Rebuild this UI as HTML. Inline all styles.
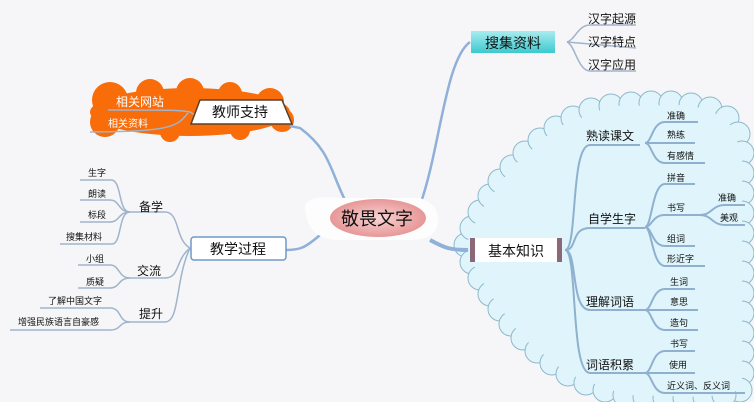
<!DOCTYPE html>
<html><head><meta charset="utf-8"><style>
html,body{margin:0;padding:0;background:#f6f6f8;}
svg{display:block;font-family:"Liberation Sans","Noto Sans CJK SC",sans-serif;}
</style></head><body>
<svg width="754" height="402" viewBox="0 0 754 402" xmlns="http://www.w3.org/2000/svg">
<defs>
<linearGradient id="teal" x1="0" y1="0" x2="0" y2="1"><stop offset="0" stop-color="#a8ecef"/><stop offset="1" stop-color="#3cc9cf"/></linearGradient>
<radialGradient id="pink" cx="0.5" cy="0.5" r="0.6"><stop offset="0" stop-color="#f8d4d4"/><stop offset="1" stop-color="#e48a8a"/></radialGradient>
</defs>
<rect width="754" height="402" fill="#f6f6f8"/>

<!-- right cloud -->
<g fill="#dff5fb" stroke="#8fb8cc" stroke-width="1">
<circle cx="466" cy="245" r="12"/><circle cx="472" cy="228" r="12"/><circle cx="480" cy="212" r="12"/><circle cx="490" cy="196" r="12"/><circle cx="500" cy="181" r="12"/><circle cx="512" cy="167" r="12"/><circle cx="525" cy="153" r="12"/><circle cx="540" cy="140" r="12"/><circle cx="556" cy="128" r="12"/><circle cx="573" cy="118" r="12"/><circle cx="591" cy="110" r="12"/><circle cx="611" cy="106" r="12"/><circle cx="631" cy="104" r="12"/><circle cx="651" cy="103" r="12"/><circle cx="671" cy="103" r="12"/><circle cx="691" cy="105" r="12"/><circle cx="710" cy="109" r="12"/><circle cx="727" cy="118" r="12"/><circle cx="738" cy="134" r="12"/><circle cx="742" cy="153" r="12"/><circle cx="742" cy="173" r="12"/><circle cx="742" cy="193" r="12"/><circle cx="742" cy="213" r="12"/><circle cx="742" cy="233" r="12"/><circle cx="742" cy="253" r="12"/><circle cx="742" cy="273" r="12"/><circle cx="742" cy="293" r="12"/><circle cx="742" cy="313" r="12"/><circle cx="742" cy="333" r="12"/><circle cx="742" cy="353" r="12"/><circle cx="742" cy="373" r="12"/><circle cx="740" cy="390" r="12"/>
<circle cx="472" cy="262" r="12"/><circle cx="480" cy="278" r="12"/><circle cx="490" cy="294" r="12"/><circle cx="500" cy="309" r="12"/><circle cx="511" cy="324" r="12"/><circle cx="523" cy="338" r="12"/><circle cx="537" cy="351" r="12"/><circle cx="552" cy="363" r="12"/><circle cx="568" cy="374" r="12"/><circle cx="586" cy="383" r="12"/><circle cx="605" cy="390" r="12"/><circle cx="625" cy="395" r="12"/><circle cx="645" cy="397" r="12"/><circle cx="665" cy="398" r="12"/><circle cx="685" cy="398" r="12"/><circle cx="705" cy="397" r="12"/><circle cx="724" cy="395" r="12"/>
</g>
<polygon points="466,245 480,212 512,167 556,128 611,106 691,105 727,118 742,153 742,390 705,397 625,395 568,374 523,338 490,294 472,262" fill="#dff5fb"/>

<!-- left orange cloud -->
<g fill="#f86c0a">
<ellipse cx="190" cy="112" rx="100" ry="24"/><circle cx="110" cy="100" r="18"/><circle cx="105" cy="122" r="15"/><circle cx="150" cy="93" r="14"/><circle cx="190" cy="92" r="14"/><circle cx="230" cy="94" r="12"/><circle cx="270" cy="102" r="14"/><circle cx="282" cy="120" r="12"/><circle cx="240" cy="130" r="10"/><circle cx="170" cy="132" r="10"/>
</g>

<!-- main connectors -->
<g fill="none" stroke="#8fb0d8" stroke-width="2.5">
<path d="M420 205 C440 150 445 60 470 42"/>
<path d="M345 200 C330 170 330 150 300 128 L290 126"/>
<path d="M320 235 C305 248 300 250 286 250"/>
<path d="M430 240 C445 248 450 250 468 250" stroke-width="4"/>
</g>

<!-- sub connectors -->
<g fill="none" stroke="#a0b4cc" stroke-width="1.5">
<path d="M567 42 C575 40 578 25 590 25 L636 25"/>
<path d="M567 42 L636 48"/>
<path d="M567 42 C575 45 578 71 590 71 L636 71"/>
<path d="M195 115 L190 112 C180 110 175 110 108 110"/>
<path d="M188 113 C178 125 175 132 90 132"/>
<path d="M190 248 C175 240 180 212 165 212 L130 212"/>
<path d="M190 248 C175 260 180 278 165 278 L130 278"/>
<path d="M190 248 C175 280 180 322 165 322 L130 322"/>
<path d="M130 212 C118 212 122 182 112 180 L80 180"/>
<path d="M130 212 C118 212 120 200 110 200 L80 200"/>
<path d="M130 212 C118 212 120 222 110 222 L80 222"/>
<path d="M130 212 C118 212 122 244 112 244 L60 244"/>
<path d="M130 278 C118 278 120 265 110 265 L78 265"/>
<path d="M130 278 C118 278 120 288 110 288 L78 288"/>
<path d="M130 322 C118 322 122 308 110 308 L40 308"/>
<path d="M130 322 C118 322 122 330 110 330 L10 330"/>
</g>
<g fill="none" stroke="#8fb0cf" stroke-width="2">
<path d="M565 250 C578 250 570 145 590 145 L640 145"/>
<path d="M565 250 C578 250 570 228 590 228 L645 228"/>
<path d="M565 250 C578 250 570 310 590 310 L645 310"/>
<path d="M565 250 C578 250 570 373 590 373 L645 373"/>
<path d="M645 143 C652 143 652 122 665 122 L698 122"/>
<path d="M645 143 L695 143"/>
<path d="M645 143 C652 143 652 163 665 163 L705 163"/>
<path d="M645 227 C652 227 652 184 665 184 L695 184"/>
<path d="M645 227 C652 227 652 215 665 215 L700 215"/>
<path d="M645 227 C652 227 652 246 665 246 L695 246"/>
<path d="M645 227 C652 227 652 266 665 266 L705 266"/>
<path d="M700 215 C712 215 712 205 725 205 L745 205"/>
<path d="M700 215 C712 215 712 225 725 225 L745 225"/>
<path d="M645 310 C652 310 652 289 665 289 L695 289"/>
<path d="M645 310 L698 310"/>
<path d="M645 310 C652 310 652 330 665 330 L698 330"/>
<path d="M645 373 C652 373 652 351 665 351 L695 351"/>
<path d="M645 373 L695 373"/>
<path d="M645 373 C652 373 652 393 665 393 L745 393"/>
</g>

<!-- nodes -->
<rect x="471" y="31" width="84" height="22" fill="url(#teal)"/>
<text x="513" y="48" font-size="14" text-anchor="middle" fill="#111">搜集资料</text>

<path d="M305 205 Q310 195 340 198 L420 198 Q440 205 438 222 Q436 240 410 240 L340 240 Q305 240 305 205Z" fill="#fdfdfd"/>
<ellipse cx="378" cy="218" rx="48" ry="19" fill="url(#pink)"/>
<text x="377" y="225" font-size="18" text-anchor="middle" fill="#111">敬畏文字</text>

<polygon points="200,100 282,100 292,124 191,124" fill="#fff" stroke="#5a4028" stroke-width="1.5"/>
<text x="240" y="117" font-size="14" text-anchor="middle" fill="#111">教师支持</text>
<text x="140" y="106" font-size="12" text-anchor="middle" fill="#fff">相关网站</text>
<text x="128" y="127" font-size="10" text-anchor="middle" fill="#fff">相关资料</text>

<rect x="191" y="237" width="95" height="23" rx="3" fill="#fff" stroke="#6f98c8" stroke-width="1.5"/>
<text x="238" y="254" font-size="14" text-anchor="middle" fill="#111">教学过程</text>

<rect x="470" y="238" width="92" height="24" fill="#fff"/>
<rect x="470" y="238" width="5" height="24" fill="#8a6878"/>
<rect x="557" y="238" width="5" height="24" fill="#8a6878"/>
<text x="516" y="256" font-size="14" text-anchor="middle" fill="#111">基本知识</text>

<g font-size="12" fill="#111">
<text x="588" y="23">汉字起源</text><text x="588" y="46">汉字特点</text><text x="588" y="69">汉字应用</text>
<text x="586" y="140">熟读课文</text><text x="588" y="223">自学生字</text><text x="586" y="306">理解词语</text><text x="586" y="369">词语积累</text>
<text x="139" y="211">备学</text><text x="137" y="275">交流</text><text x="139" y="318">提升</text>
</g>
<g font-size="9" fill="#111">
<text x="667" y="119">准确</text><text x="667" y="138">熟练</text><text x="667" y="159">有感情</text>
<text x="667" y="181">拼音</text><text x="667" y="211">书写</text><text x="667" y="242">组词</text><text x="667" y="262">形近字</text>
<text x="718" y="201">准确</text><text x="720" y="221">美观</text>
<text x="670" y="285">生词</text><text x="670" y="305">意思</text><text x="670" y="326">造句</text>
<text x="670" y="347">书写</text><text x="669" y="368">使用</text><text x="667" y="389">近义词、反义词</text>
<text x="88" y="176">生字</text><text x="88" y="197">朗读</text><text x="88" y="218">标段</text><text x="66" y="240">搜集材料</text>
<text x="86" y="262">小组</text><text x="86" y="285">质疑</text>
<text x="48" y="304">了解中国文字</text><text x="18" y="325">增强民族语言自豪感</text>
</g>
</svg>
</body></html>
